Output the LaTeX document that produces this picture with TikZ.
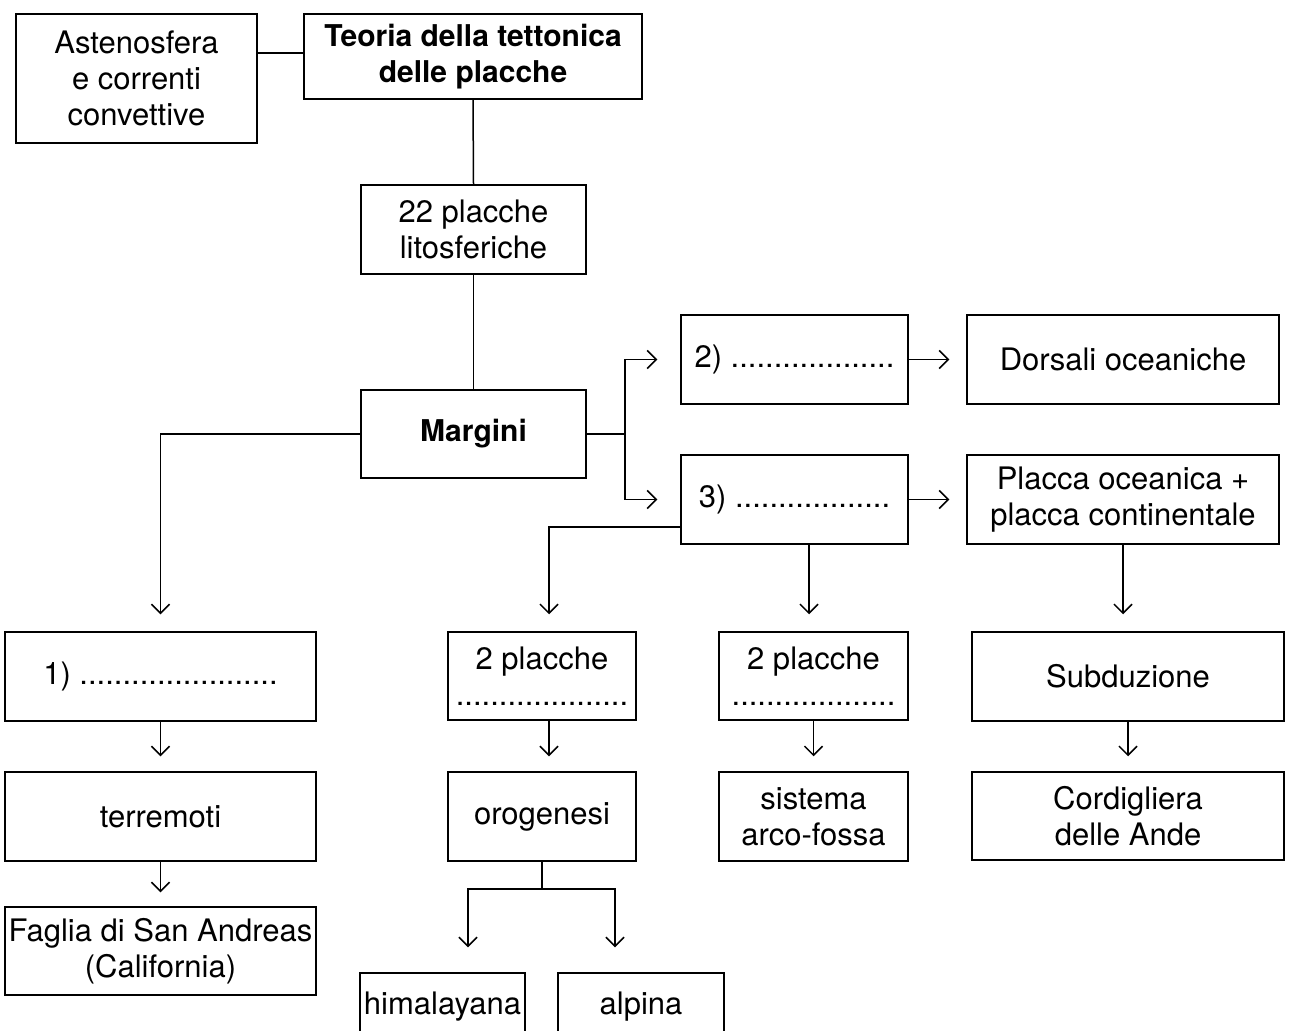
\documentclass[tikz,border=0pt]{standalone}
\usepackage{fontspec}
\setmainfont{TeX Gyre Heros}
\usetikzlibrary{arrows.meta,calc}
\begin{document}
\begin{tikzpicture}[x=1pt,y=-1pt,
  every node/.style={font=\fontsize{31}{36}\selectfont},
  box/.style={draw, line width=1.5pt, inner sep=0pt, align=center},
  conn/.style={line width=1.5pt},
  arr/.style={line width=1.5pt, -{Straight Barb[length=9pt,width=18pt,line width=1.5pt]}}]
\clip (0,0) rectangle (1289,1030);
\fill[white] (0,0) rectangle (1289,1030);
% nodes
\node[box, minimum width=241, minimum height=129] (ast) at (136.5,78.5) {Astenosfera\\e correnti\\convettive};
\node[box, minimum width=338, minimum height=85, font=\fontsize{30}{36}\selectfont\bfseries] (teo) at (473,56.5) {Teoria della tettonica\\delle placche};
\node[box, minimum width=225, minimum height=89] (p22) at (473.5,229.5) {22 placche\\litosferiche};
\node[box, minimum width=225, minimum height=88, font=\fontsize{30}{36}\selectfont\bfseries] (mar) at (473.5,434) {Margini};
\node[box, minimum width=227, minimum height=89] (b2) at (794.5,359.5) {2) ...................};
\node[box, minimum width=312, minimum height=89] (dor) at (1123,359.5) {Dorsali oceaniche};
\node[box, minimum width=227, minimum height=89] (b3) at (794.5,499.5) {3) ..................};
\node[box, minimum width=312, minimum height=89] (pla) at (1123,499.5) {Placca oceanica +\\placca continentale};
\node[box, minimum width=311, minimum height=89] (b1) at (160.5,676.5) {1) .......................};
\node[box, minimum width=188, minimum height=88] (pa) at (542,676) {2 placche\\....................};
\node[box, minimum width=189, minimum height=88] (pb) at (813.5,676) {2 placche\\...................};
\node[box, minimum width=312, minimum height=89] (sub) at (1128,676.5) {Subduzione};
\node[box, minimum width=311, minimum height=89] (ter) at (160.5,816.5) {terremoti};
\node[box, minimum width=188, minimum height=89] (oro) at (542,816.5) {orogenesi};
\node[box, minimum width=189, minimum height=89] (sis) at (813.5,816.5) {sistema\\arco-fossa};
\node[box, minimum width=312, minimum height=88] (cor) at (1128,816) {Cordigliera\\delle Ande};
\node[box, minimum width=311, minimum height=88] (fag) at (160.5,951) {Faglia di San Andreas\\(California)};
\node[box, minimum width=165, minimum height=89] (him) at (442.5,1017.5) {};
\node[box, minimum width=166, minimum height=89] (alp) at (641,1017.5) {};
\node[anchor=base] (himt) at (442.5,1014) {himalayana};
\node[anchor=base] (alpt) at (641,1014) {alpina};
% helper coordinates
\coordinate (pan) at ([xshift=7pt]pa.north);
\coordinate (pas) at ([xshift=7pt]pa.south);
\coordinate (pbn) at ([xshift=-4.5pt]pb.north);
\coordinate (hn) at ([xshift=25.5pt]him.north);
\coordinate (an) at ([xshift=-26pt]alp.north);
% connectors
\draw[conn] ([yshift=3.5pt]teo.west) -- ([yshift=3.5pt]teo.west -| ast.east);
\draw[conn] (teo.south) -- (p22.north);
\draw[conn] (p22.south) -- (mar.north);
\draw[arr, shorten >=17pt] (mar.west) -| (b1.north);
\draw[arr, shorten >=23pt] (mar.east) -- ++(38,0) |- (b2.west);
\draw[arr, shorten >=23pt] (mar.east) -- ++(38,0) |- (b3.west);
\draw[arr, shorten >=17pt] (b2.east) -- (dor.west);
\draw[arr, shorten >=17pt] (b3.east) -- (pla.west);
\draw[arr, shorten >=17pt] ([yshift=-27.5pt]b3.west) -| (pan);
\draw[arr, shorten >=17pt] (pbn |- b3.south) -- (pbn);
\draw[arr, shorten >=17pt] (pla.south) -- (pla.south |- sub.north);
\draw[arr, shorten >=15pt] (b1.south) -- (ter.north);
\draw[arr, shorten >=15pt] (pas) -- (pas |- oro.north);
\draw[arr, shorten >=15pt] (pb.south) -- (sis.north);
\draw[arr, shorten >=15pt] (sub.south) -- (cor.north);
\draw[arr, shorten >=14pt] (ter.south) -- (fag.north);
\draw[conn] (oro.south) -- ++(0,27) coordinate (j);
\draw[arr, shorten >=25pt] (j) -| (hn);
\draw[arr, shorten >=25pt] (j) -| (an);
\end{tikzpicture}
\end{document}
